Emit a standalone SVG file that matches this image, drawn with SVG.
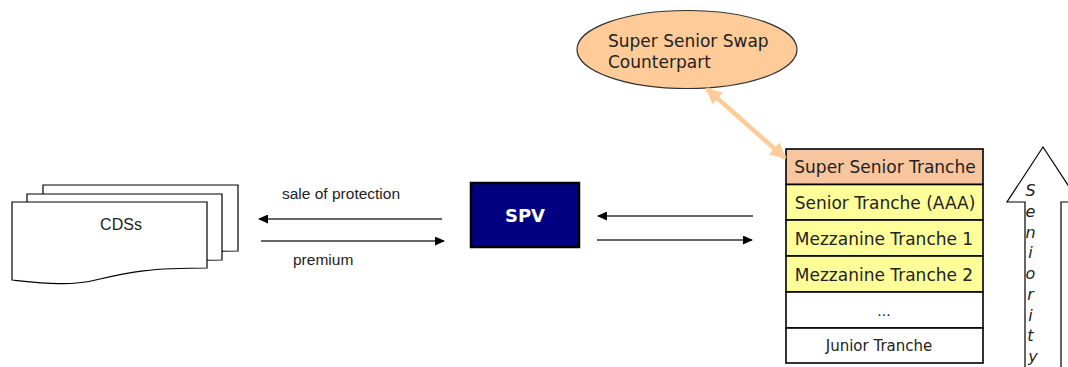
<svg xmlns="http://www.w3.org/2000/svg" width="1068" height="367" viewBox="0 0 1068 367">
<style>
.doc{fill:#fff;stroke:#000;stroke-width:1.2}
.lbl{font-family:"Liberation Sans",Arial,sans-serif;font-size:15.5px;fill:#222}
.tr{font-family:"DejaVu Sans",Verdana,sans-serif;font-size:17px;fill:#222;text-anchor:middle}
.row{stroke:#000;stroke-width:1.6}
.flow{stroke:#333;stroke-width:1.5;fill:none}
.swap{stroke:#FFCC99;stroke-width:4.5;fill:none}
</style>
<defs>
<marker id="ah" viewBox="0 0 10 10" refX="9" refY="5" markerWidth="10" markerHeight="9" markerUnits="userSpaceOnUse" orient="auto" preserveAspectRatio="none">
<path d="M0,0 L10,5 L0,10 Z" fill="#000"/>
</marker>
<marker id="ahb" viewBox="0 0 10 10" refX="9" refY="5" markerWidth="16" markerHeight="16" markerUnits="userSpaceOnUse" orient="auto-start-reverse">
<path d="M0,0 L10,5 L0,10 Z" fill="#FFCC99"/>
</marker>
</defs>
<g id="cdss">
<path class="doc" d="M43,185 H238 V251 C181,251 161,255 131,262 C101,270 71,266 43,263 Z"/>
<path class="doc" d="M27,194 H222 V260 C165,260 145,264 115,271 C85,279 55,275 27,272 Z"/>
<path class="doc" d="M12,202 H207 V268 C150,268 130,272 100,279 C70,287 40,283 12,280 Z"/>
<text x="121" y="230" class="lbl" text-anchor="middle" style="font-size:16px">CDSs</text>
</g>
<g id="spv">
<rect x="471" y="183" width="108" height="64" fill="#000080" stroke="#000" stroke-width="2.5"/>
<text x="525" y="222" font-family="'DejaVu Sans',Verdana,sans-serif" font-weight="bold" font-size="18" fill="#fff" text-anchor="middle">SPV</text>
</g>
<g id="counterpart">
<ellipse cx="687" cy="49.5" rx="110" ry="39" fill="#FFCC99" stroke="#333" stroke-width="1.2"/>
<text x="608" y="47" class="tr" style="text-anchor:start">Super Senior Swap</text>
<text x="608" y="68" class="tr" style="text-anchor:start">Counterpart</text>
</g>
<g id="tranches">
<rect class="row" x="786" y="149" width="197" height="35.5" fill="#F8C59E"/>
<rect class="row" x="786" y="184.5" width="197" height="35.5" fill="#FFFF99"/>
<rect class="row" x="786" y="220" width="197" height="36" fill="#FFFF99"/>
<rect class="row" x="786" y="256" width="197" height="36" fill="#FFFF99"/>
<rect class="row" x="786" y="292" width="197" height="36" fill="#fff"/>
<rect class="row" x="786" y="328" width="197" height="35" fill="#fff"/>
<text class="tr" x="885" y="173">Super Senior Tranche</text>
<text class="tr" x="885" y="208.5">Senior Tranche (AAA)</text>
<text class="tr" x="884" y="244.5">Mezzanine Tranche 1</text>
<text class="tr" x="884" y="280.5">Mezzanine Tranche 2</text>
<text class="tr" x="884" y="316" style="font-size:14px">...</text>
<text class="tr" x="879" y="351" style="font-size:15px">Junior Tranche</text>
</g>
<g id="seniority">
<polygon points="1043,147 1079,202 1061,202 1061,375 1025,375 1025,202 1007,202" fill="#fff" stroke="#000" stroke-width="1.2"/>
<text font-family="'DejaVu Sans',Verdana,sans-serif" font-style="italic" font-size="16" fill="#222" text-anchor="middle">
<tspan x="1033" y="196">S</tspan>
<tspan x="1033" y="217">e</tspan>
<tspan x="1033" y="238">n</tspan>
<tspan x="1033" y="258">i</tspan>
<tspan x="1033" y="279">o</tspan>
<tspan x="1033" y="300">r</tspan>
<tspan x="1033" y="321">i</tspan>
<tspan x="1033" y="341">t</tspan>
<tspan x="1033" y="362">y</tspan>
</text>
</g>
<g id="connectors">
<line class="flow" x1="442" y1="219" x2="259" y2="219" marker-end="url(#ah)"/>
<line class="flow" x1="261" y1="241" x2="444" y2="241" marker-end="url(#ah)"/>
<line class="flow" x1="753" y1="216" x2="598" y2="216" marker-end="url(#ah)"/>
<line class="flow" x1="597" y1="240" x2="752" y2="240" marker-end="url(#ah)"/>
<line class="swap" x1="707" y1="89" x2="785" y2="158" marker-start="url(#ahb)" marker-end="url(#ahb)"/>
<text class="lbl" x="282" y="199">sale of protection</text>
<text class="lbl" x="293" y="265">premium</text>
</g>
</svg>
